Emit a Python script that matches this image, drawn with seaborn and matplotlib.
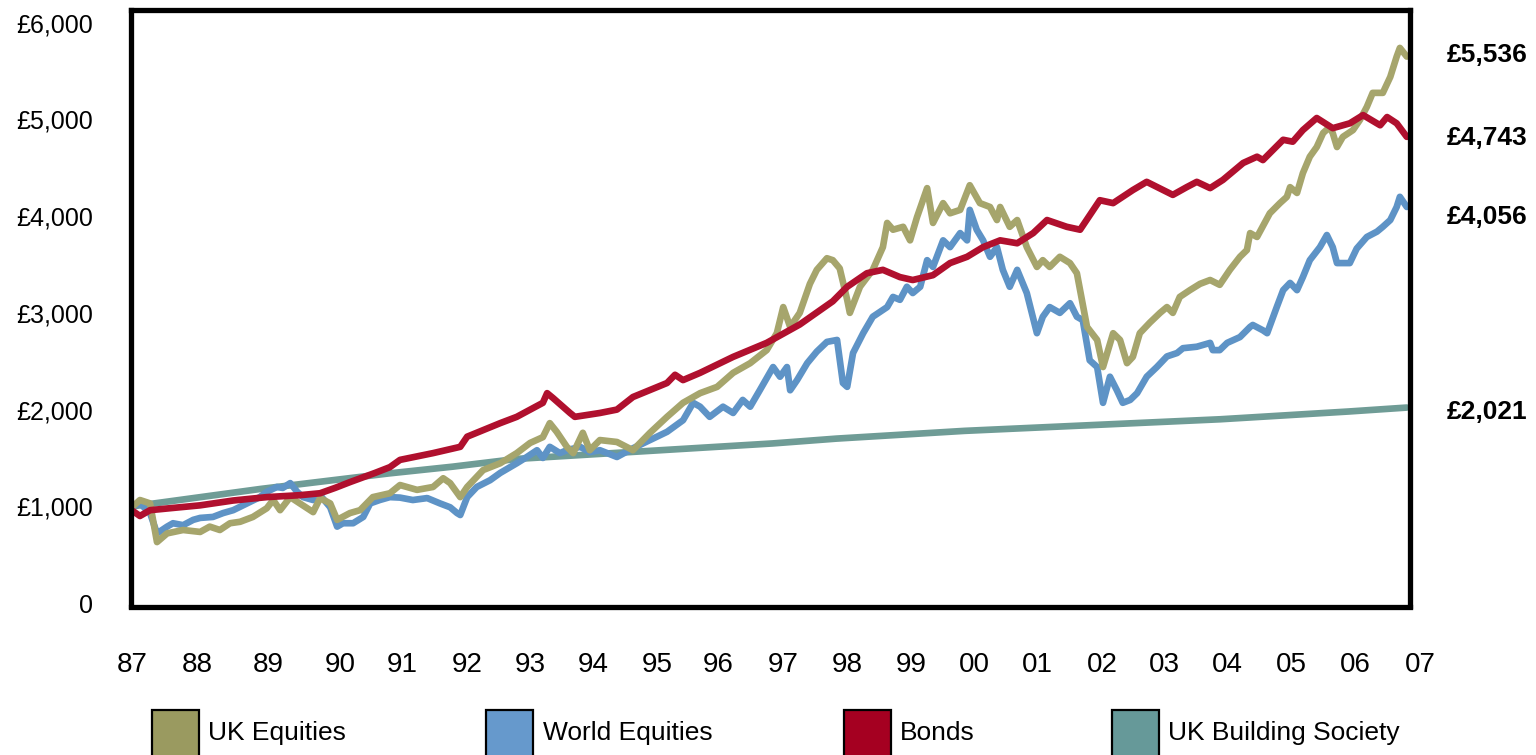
import matplotlib
matplotlib.use("Agg")
import matplotlib.pyplot as plt
import seaborn as sns
import pandas as pd
from matplotlib.patches import Rectangle

# ---- data (months counted from the start of the series, values in GBP) ----
series_names = ["UK Equities", "World Equities", "Bonds", "UK Building Society"]

uk_months = [0, 1.3, 3.2, 4.5, 6.4, 9.4, 12.6, 14.4, 16.3, 18.2, 20.1, 22.5, 25.1, 26.3, 27.6,
             29.5, 31.3, 33.8, 35.1, 37.0, 38.3, 40.7, 42.6, 45.0, 48.2, 50.1, 53.3, 56.3, 58.2,
             59.5, 61.4, 62.7, 65.7, 68.9, 72.0, 74.5, 76.9, 78.2, 79.5, 81.4, 82.6, 84.4, 85.7,
             87.6, 90.8, 93.8, 97.0, 100.2, 103.2, 106.4, 109.6, 112.6, 115.8, 118.9, 120.8,
             122.0, 123.3, 125.1, 127.0, 128.3, 130.2, 131.3, 132.6, 134.0, 134.5, 136.4, 138.8,
             140.7, 141.5, 142.6, 144.5, 145.8, 147.1, 149.0, 150.1, 152.0, 153.3, 155.2, 157.0,
             158.9, 160.8, 162.1, 162.7, 164.5, 165.9, 167.7, 169.6, 170.7, 172.0, 173.9, 175.8,
             177.1, 179.0, 180.9, 182.0, 183.9, 185.2, 186.5, 187.6, 188.9, 190.8, 192.7, 194.0,
             195.1, 196.4, 198.3, 200.2, 202.1, 203.9, 205.8, 207.7, 209.0, 209.6, 210.9, 213.3,
             215.2, 216.5, 217.1, 218.4, 219.5, 220.8, 222.1, 223.3, 224.5, 225.1, 225.9, 227.0,
             228.9, 230.2, 231.5, 232.6, 234.5, 235.9, 237.1, 237.7, 239.0]
uk_values = [1000, 1065, 1030, 630, 720, 755, 735, 790, 755, 825, 840, 890, 980, 1065, 960,
             1095, 1030, 940, 1085, 1030, 860, 930, 960, 1095, 1135, 1220, 1170, 1200, 1290,
             1240, 1095, 1200, 1375, 1445, 1550, 1655, 1715, 1860, 1770, 1615, 1550, 1760, 1580,
             1685, 1665, 1580, 1760, 1925, 2070, 2170, 2235, 2380, 2480, 2615, 2790,
             3060, 2855, 3000, 3300, 3445, 3565, 3545, 3460, 3135, 3000, 3270, 3445,
             3680, 3930, 3860, 3890, 3750, 3990, 4290, 3930, 4135, 4030, 4065, 4320,
             4135, 4095, 3960, 4095, 3890, 3960, 3680, 3475, 3545, 3475, 3580, 3515,
             3410, 2855, 2720, 2440, 2790, 2720, 2480, 2545, 2790, 2900, 3000, 3060,
             3000, 3165, 3235, 3300, 3340, 3290, 3445, 3580, 3650, 3825, 3785, 4030,
             4135, 4200, 4300, 4240, 4445, 4615, 4715, 4860, 4920, 4860, 4715, 4820,
             4890, 4995, 5130, 5275, 5275, 5440, 5650, 5740, 5650]

world_months = [0, 1.3, 3.2, 4.5, 6.4, 7.5, 9.4, 11.3, 12.6, 15.0, 16.9, 18.8, 21.4, 23.8, 25.1,
                27.0, 28.1, 29.5, 30.8, 31.9, 33.8, 35.1, 37.0, 38.3, 39.4, 41.3, 43.2, 44.5, 46.3,
                48.2, 50.1, 52.5, 55.2, 57.6, 59.5, 60.8, 61.4, 62.7, 64.5, 67.0, 68.9, 72.0, 73.9,
                75.8, 76.9, 78.2, 80.1, 81.4, 83.9, 85.7, 87.6, 90.8, 93.8, 97.0, 100.2, 103.2,
                105.1, 106.4, 108.2, 110.7, 112.6, 114.4, 115.8, 117.6, 120.1, 121.4, 122.7, 123.3,
                124.6, 126.5, 128.3, 130.2, 132.1, 133.2, 134.0, 135.1, 137.0, 138.8, 141.5, 142.6,
                143.9, 145.2, 146.3, 147.7, 149.0, 150.1, 152.0, 153.3, 155.2, 156.5, 157.0, 158.3,
                159.5, 160.8, 162.1, 163.2, 164.5, 165.9, 167.7, 169.6, 170.7, 172.0, 173.9, 175.8,
                177.1, 178.2, 179.5, 180.9, 182.0, 183.3, 184.6, 185.7, 187.1, 188.4, 190.2, 192.1,
                194.0, 195.9, 197.0, 199.6, 202.1, 202.6, 203.9, 205.3, 207.7, 209.6, 210.1, 212.0,
                212.8, 214.6, 215.8, 217.1, 218.4, 219.5, 220.8, 222.7, 224.0, 225.1, 225.9, 228.3,
                229.6, 231.5, 233.4, 234.5, 235.9, 237.1, 237.7, 239.0]
world_values = [1000, 1030, 930, 720, 790, 825, 805, 860, 880, 890, 930, 960, 1030, 1095, 1150,
                1200, 1190, 1240, 1150, 1095, 1065, 1115, 990, 790, 825, 825, 890, 1030, 1065,
                1095, 1090, 1065, 1085, 1030, 990, 930, 910, 1095, 1200, 1270, 1345, 1445, 1510,
                1580, 1500, 1615, 1550, 1580, 1615, 1560, 1580, 1510, 1600, 1685, 1770, 1890,
                2070, 2030, 1925, 2030, 1965, 2100, 2030, 2200, 2440, 2340, 2440, 2200,
                2305, 2480, 2600, 2700, 2720, 2275, 2235, 2585, 2790, 2960, 3060, 3165,
                3135, 3270, 3205, 3270, 3545, 3475, 3750, 3680, 3825, 3750, 4065, 3860,
                3750, 3580, 3680, 3445, 3270, 3445, 3205, 2790, 2960, 3060, 3000, 3100,
                2960, 2925, 2510, 2440, 2070, 2340, 2200, 2070, 2100, 2170, 2340, 2440,
                2550, 2585, 2635, 2650, 2690, 2615, 2615, 2690, 2750, 2855, 2875, 2820,
                2790, 3060, 3235, 3310, 3235, 3370, 3545, 3680, 3805, 3680, 3515, 3515,
                3665, 3785, 3840, 3890, 3960, 4095, 4200, 4095]

bond_months = [0, 1.3, 3.2, 6.9, 12.6, 18.8, 25.1, 31.3, 35.1, 37.9, 40.7, 45.4, 48.2, 50.1,
               56.3, 61.4, 62.7, 68.9, 72.0, 76.9, 77.7, 78.8, 82.0, 82.9, 87.6, 90.8, 93.8,
               100.2, 101.7, 103.2, 106.4, 112.6, 118.9, 125.1, 131.3, 134.0, 137.7, 140.7,
               143.9, 146.3, 150.1, 153.3, 156.5, 159.5, 162.7, 165.9, 168.9, 171.5, 175.2,
               177.7, 181.4, 183.9, 187.6, 190.2, 195.1, 197.7, 199.6, 202.1, 204.5, 208.3,
               210.9, 212.0, 215.8, 217.6, 219.5, 222.1, 225.1, 228.3, 230.8, 234.0, 235.3,
               237.1, 239.0]
bond_values = [950, 900, 960, 980, 1010, 1060, 1095, 1115, 1135, 1190, 1250, 1345, 1405, 1480,
               1550, 1615, 1720, 1860, 1925, 2070, 2170, 2120, 1965, 1925, 1965, 2000, 2130,
               2275, 2360, 2305, 2380, 2545, 2690, 2880, 3120, 3270, 3410, 3445,
               3370, 3340, 3390, 3515, 3580, 3680, 3750, 3720, 3825, 3960, 3890,
               3860, 4165, 4135, 4270, 4355, 4220, 4300, 4355, 4290, 4375, 4550,
               4615, 4580, 4790, 4770, 4890, 5015, 4910, 4960, 5045, 4940, 5025,
               4960, 4820]

bs_months = [0, 12, 24, 36, 48, 60, 72, 84, 96, 108, 120, 132, 144, 156, 168, 180, 192, 204,
             216, 228, 239]
bs_values = [1000, 1090, 1180, 1260, 1340, 1410, 1490, 1530, 1570, 1610, 1650, 1700, 1740,
             1780, 1810, 1840, 1870, 1900, 1940, 1980, 2021]

year_labels = ["87", "88", "89", "90", "91", "92", "93", "94", "95", "96", "97", "98", "99",
               "00", "01", "02", "03", "04", "05", "06", "07"]
end_labels = ["£5,536", "£4,743", "£4,056", "£2,021"]

# ---- styling ----
line_colours = {"UK Equities": "#a6a56c", "World Equities": "#5e93c6",
                "Bonds": "#b0102e", "UK Building Society": "#6f9c96"}
patch_colours = {"UK Equities": "#9a9a60", "World Equities": "#6699cc",
                 "Bonds": "#a50021", "UK Building Society": "#669999"}

frames = []
for name, months, values in [("UK Equities", uk_months, uk_values),
                             ("World Equities", world_months, world_values),
                             ("Bonds", bond_months, bond_values),
                             ("UK Building Society", bs_months, bs_values)]:
    frames.append(pd.DataFrame({"month": months, "value": values, "series": name}))
df = pd.concat(frames, ignore_index=True)

sns.set_style("white")
plt.rcParams["font.family"] = ["Liberation Sans", "DejaVu Sans"]
plt.rcParams["text.color"] = "black"
plt.rcParams["ytick.color"] = "black"
plt.rcParams["xtick.color"] = "black"

W, H = 1536, 755
fig = plt.figure(figsize=(W / 100, H / 100), dpi=100)
ax = fig.add_axes([130.5 / W, 1 - 606.5 / H, (1410 - 130.5) / W, (606.5 - 9.5) / H])

draw_order = ["UK Building Society", "World Equities", "UK Equities", "Bonds"]
sns.lineplot(data=df, x="month", y="value", hue="series", hue_order=draw_order,
             palette=line_colours, estimator=None, sort=False, linewidth=4.8,
             legend=False, ax=ax)
for ln in ax.lines:
    ln.set_solid_joinstyle("round")
    ln.set_solid_capstyle("round")

ax.set_xlim(-0.47, 239.6)
ax.set_ylim(-36, 6137)
ax.set_xlabel("")
ax.set_ylabel("")

for s in ax.spines.values():
    s.set_visible(True)
    s.set_color("black")
    s.set_linewidth(3.8)

yt = list(range(0, 6001, 1000))
ax.set_yticks(yt)
ax.set_yticklabels(["0"] + [f"£{v:,}" for v in yt[1:]])
ax.tick_params(axis="y", length=0, pad=27, labelsize=18, labelcolor="black")
ax.set_xticks([])

# year labels sit under the axis, unevenly spaced as in the original
tick_months = [-0.2, 12.0, 25.3, 38.8, 50.5, 62.7, 74.5, 86.3, 98.3, 109.8, 122.0, 134.1,
               146.1, 157.9, 169.6, 181.8, 193.6, 205.4, 217.4, 229.3, 241.5]
for m, lab in zip(tick_months, year_labels):
    ax.text(m, (606.5 - 665) / 597, lab, transform=ax.get_xaxis_transform(),
            ha="center", va="center", fontsize=20, clip_on=False, color="black")

# final values on the right
for lab, ypx in zip(end_labels, [55, 138, 217, 412]):
    fig.text(1447 / W, 1 - ypx / H, lab, ha="left", va="center",
             fontsize=19, fontweight="bold", color="black")

# legend drawn as coloured squares along the bottom
legend_x = [(152, 208), (486, 543), (844, 900), (1112, 1168)]
for name, (px, tx) in zip(series_names, legend_x):
    fig.add_artist(Rectangle((px / W, -0.02), 47 / W, (755 - 710) / H + 0.02,
                             transform=fig.transFigure, facecolor=patch_colours[name],
                             edgecolor="black", linewidth=1.6))
    fig.text(tx / W, 1 - 733 / H, name, ha="left", va="center", fontsize=19, color="black")

fig.savefig("out.png", dpi=100)
